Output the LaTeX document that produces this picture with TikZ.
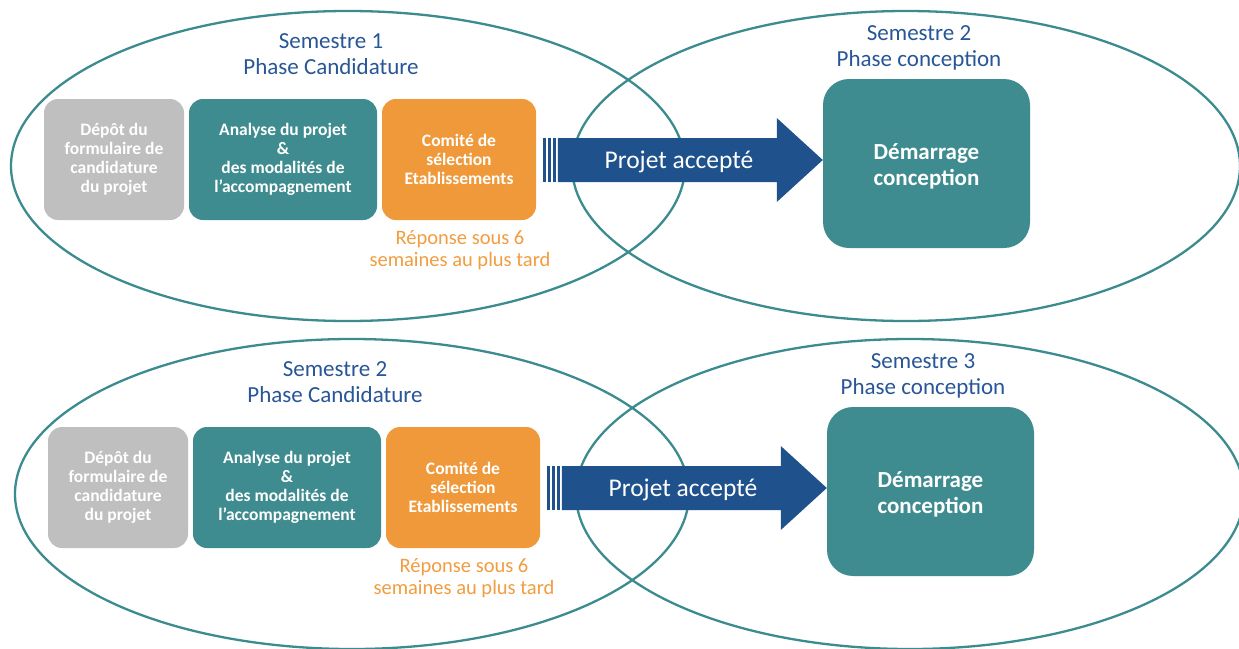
\documentclass[tikz,border=0pt]{standalone}
\usepackage{fontspec}
\setmainfont{Carlito}
\definecolor{ellc}{RGB}{60,140,143}
\definecolor{tealb}{RGB}{62,140,143}
\definecolor{greyb}{RGB}{191,191,191}
\definecolor{orangeb}{RGB}{240,153,59}
\definecolor{arrowc}{RGB}{31,82,140}
\definecolor{titlec}{RGB}{40,86,150}
\definecolor{orangetxt}{RGB}{242,157,64}
\tikzset{
  ell/.style={draw=ellc, line width=2.3pt},
  boxbase/.style={rounded corners=14pt, minimum height=121pt, inner sep=0pt, align=center,
    text=white, font=\bfseries\fontsize{17.5}{19}\selectfont},
  greybox/.style={boxbase, fill=greyb},
  tealbox/.style={boxbase, fill=tealb},
  orangebox/.style={boxbase, fill=orangeb},
  bigbox/.style={rounded corners=26pt, fill=tealb, minimum width=207pt, minimum height=169pt,
    inner sep=0pt},
  bigtext/.style={align=center, text=white, inner sep=0pt, yshift=-3pt,
    font=\bfseries\fontsize{23}{26}\selectfont},
  titletext/.style={text=titlec, align=center, inner sep=0pt, font=\fontsize{23}{26}\selectfont},
  notetext/.style={text=orangetxt, align=center, inner sep=0pt, font=\fontsize{20.5}{22}\selectfont},
  arrowtext/.style={text=white, inner sep=0pt, font=\fontsize{25.5}{26}\selectfont},
  arrowfill/.style={fill=arrowc},
}
\newcommand\phasepair[5]{%
\begin{scope}[shift={(#2,#3)}]
  \draw[ell] (348,166) ellipse [x radius=337, y radius=155];
  \draw[ell] (906,166) ellipse [x radius=334, y radius=155];
  \node[titletext] (#1tl) at (331,54.5) {Semestre #4\\Phase Candidature};
  \node[titletext] (#1tr) at (919,47.5) {Semestre #5\\Phase conception};
  \node[greybox, minimum width=140pt] (#1a) at (114,159.5) {Dépôt du\\formulaire de\\candidature\\du projet};
  \node[tealbox, minimum width=188pt] (#1b) at (283,159.5) {Analyse du projet\\\&\\des modalités de\\l’accompagnement};
  \node[orangebox, minimum width=154pt] (#1c) at (459,159.5) {Comité de\\sélection\\Etablissements};
  \node[notetext] (#1n) at (460,250) {Réponse sous 6\\semaines au plus tard};
  \node[bigbox, label={[bigtext]center:{Démarrage\\conception}}] (#1d) at (926.5,163.5) {};
  \coordinate (#1tip) at ([yshift=3.5pt]#1d.west);
  \fill[arrowfill] (#1tip) -- ++(-46,-42) -- ++(0,20) -- ++(-219,0) -- ++(0,44)
     -- ++(219,0) -- ++(0,20) -- cycle;
  \fill[arrowfill] ([xshift=7pt]#1c.east |- #1tip) ++(0,-22) rectangle ++(2.7,44);
  \fill[arrowfill] ([xshift=12pt]#1c.east |- #1tip) ++(0,-22) rectangle ++(2.7,44);
  \fill[arrowfill] ([xshift=17pt]#1c.east |- #1tip) ++(0,-22) rectangle ++(2.7,44);
  \node[arrowtext] (#1p) at (679,161.5) {Projet accepté};
\end{scope}}
\begin{document}
\begin{tikzpicture}[x=1pt,y=-1pt]
  \useasboundingbox (0,0) rectangle (1239,648);
  \clip (0,0) rectangle (1239,648);
  \fill[white] (0,0) rectangle (1239,648);
  \phasepair{u}{0}{0}{1}{2}
  \phasepair{l}{4}{328}{2}{3}
\end{tikzpicture}
\end{document}
